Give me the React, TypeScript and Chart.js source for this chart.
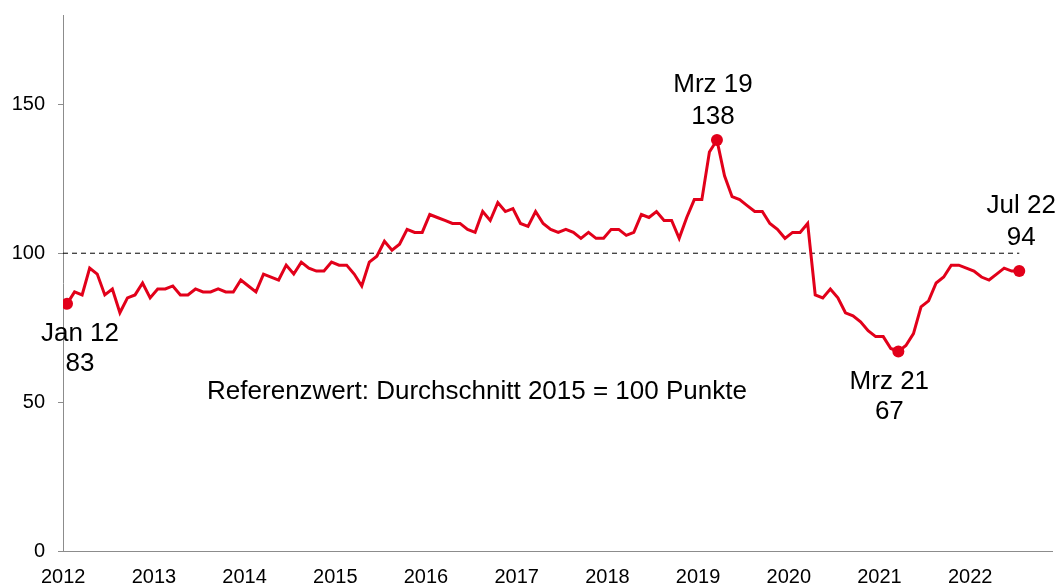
import React, { useEffect, useRef } from "react";
import { Chart, registerables } from "chart.js";

Chart.register(...registerables);

const START_YEAR = 2012;
const MONTHS = ["Jan", "Feb", "Mrz", "Apr", "Mai", "Jun", "Jul", "Aug", "Sep", "Okt", "Nov", "Dez"];
const YEAR_LABELS = ["2012", "2013", "2014", "2015", "2016", "2017", "2018", "2019", "2020", "2021", "2022"];
const Y_TICKS = [0, 50, 100, 150];
const REFERENCE_VALUE = 100;
const REFERENCE_TEXT = "Referenzwert: Durchschnitt 2015 = 100 Punkte";

// Monthly index values, Jan 2012 – Jul 2022
const VALUES = [
  83, 87, 86, 95, 93, 86, 88, 80, 85, 86, 90, 85,
  88, 88, 89, 86, 86, 88, 87, 87, 88, 87, 87, 91,
  89, 87, 93, 92, 91, 96, 93, 97, 95, 94, 94, 97,
  96, 96, 93, 89, 97, 99, 104, 101, 103, 108, 107, 107,
  113, 112, 111, 110, 110, 108, 107, 114, 111, 117, 114, 115,
  110, 109, 114, 110, 108, 107, 108, 107, 105, 107, 105, 105,
  108, 108, 106, 107, 113, 112, 114, 111, 111, 105, 112, 118,
  118, 134, 138, 126, 119, 118, 116, 114, 114, 110, 108, 105,
  107, 107, 110, 86, 85, 88, 85, 80, 79, 77, 74, 72,
  72, 68, 67, 69, 73, 82, 84, 90, 92, 96, 96, 95,
  94, 92, 91, 93, 95, 94, 94,
];

// Highlighted points (month indices) and label placement
const HIGHLIGHT_IDX = [0, 86, 110, 126];
const HIGHLIGHT_POS = ["below", "above", "below", "above"];

const X_MIN = -0.53;
const X_MAX = 130.33;

const FONT = "'Liberation Sans', Arial, sans-serif";
const RED = "#E2001A";

const monthLabel = (i: number) =>
  `${MONTHS[i % 12]} ${String((START_YEAR + Math.floor(i / 12)) % 100).padStart(2, "0")}`;

export default function App() {
  const ref = useRef<HTMLCanvasElement | null>(null);

  useEffect(() => {
    document.body.style.margin = "0";
    if (!ref.current) return;
    const lineData = VALUES.map((v, i) => ({ x: i, y: v }));
    const refData = [
      { x: X_MIN, y: REFERENCE_VALUE },
      { x: VALUES.length - 1, y: REFERENCE_VALUE },
    ];

    const labelPlugin = {
      id: "labels",
      afterDatasetsDraw(chart: any) {
        const ctx = chart.ctx;
        const xs = chart.scales.x;
        const ys = chart.scales.y;
        ctx.save();
        ctx.fillStyle = "#000";
        ctx.textAlign = "center";
        ctx.textBaseline = "middle";
        ctx.font = `26px ${FONT}`;
        HIGHLIGHT_IDX.forEach((idx, k) => {
          const px = xs.getPixelForValue(idx);
          const py = ys.getPixelForValue(VALUES[idx]);
          const dx = k === 0 ? 13 : k === 1 ? -4 : k === 2 ? -9 : 2;
          if (HIGHLIGHT_POS[k] === "below") {
            ctx.fillText(monthLabel(idx), px + dx, py + 30);
            ctx.fillText(String(VALUES[idx]), px + dx, py + 60);
          } else {
            const off = k === 3 ? 65 : 55;
            ctx.fillText(monthLabel(idx), px + dx, py - off);
            ctx.fillText(String(VALUES[idx]), px + dx, py - off + 32);
          }
        });
        ctx.font = `26px ${FONT}`;
        ctx.fillText(REFERENCE_TEXT, 477, 392);
        ctx.restore();
      },
    };

    const chart = new Chart(ref.current, {
      type: "line",
      data: {
        datasets: [
          {
            data: lineData,
            borderColor: RED,
            backgroundColor: RED,
            borderWidth: 3,
            tension: 0,
            pointRadius: (c: any) => (HIGHLIGHT_IDX.includes(c.dataIndex) ? 6 : 0),
            pointBackgroundColor: RED,
            pointBorderColor: RED,
            pointBorderWidth: 0,
            order: 0,
          },
          {
            data: refData,
            borderColor: "#000",
            borderWidth: 1,
            borderDash: [5, 4],
            pointRadius: 0,
            order: 1,
          },
        ],
      },
      plugins: [labelPlugin],
      options: {
        animation: false,
        responsive: true,
        maintainAspectRatio: false,
        layout: { padding: { top: 15, right: 0, left: 0, bottom: 0 } },
        plugins: {
          legend: { display: false },
          tooltip: { enabled: false },
        },
        scales: {
          x: {
            type: "linear",
            min: X_MIN,
            max: X_MAX,
            grid: { display: false, drawTicks: false },
            border: { display: true, color: "#8c8c8c", width: 1 },
            afterBuildTicks: (scale: any) => {
              scale.ticks = YEAR_LABELS.map((_, k) => ({ value: k * 12 - 0.5 }));
            },
            ticks: {
              autoSkip: false,
              maxRotation: 0,
              padding: 14,
              color: "#000",
              font: { family: FONT, size: 20 },
              callback: (v: any) => YEAR_LABELS[Math.round((Number(v) + 0.5) / 12)],
            },
            afterFit: (scale: any) => {
              scale.height = 35;
              scale.paddingLeft = 0;
              scale.paddingRight = 0;
            },
          },
          y: {
            type: "linear",
            min: 0,
            max: 180,
            grid: {
              drawOnChartArea: false,
              drawTicks: true,
              tickLength: 5,
              tickColor: "#8c8c8c",
            },
            border: { display: true, color: "#8c8c8c", width: 1 },
            afterBuildTicks: (scale: any) => {
              scale.ticks = Y_TICKS.map((v) => ({ value: v }));
            },
            ticks: {
              padding: 13,
              color: "#000",
              font: { family: FONT, size: 20 },
            },
            afterFit: (scale: any) => {
              scale.width = 63;
              scale.paddingTop = 0;
              scale.paddingBottom = 0;
            },
          },
        },
      },
    } as any);
    return () => chart.destroy();
  }, []);

  return (
    <div style={{ width: 1058, height: 586, position: "relative" }}>
      <canvas ref={ref} />
    </div>
  );
}
